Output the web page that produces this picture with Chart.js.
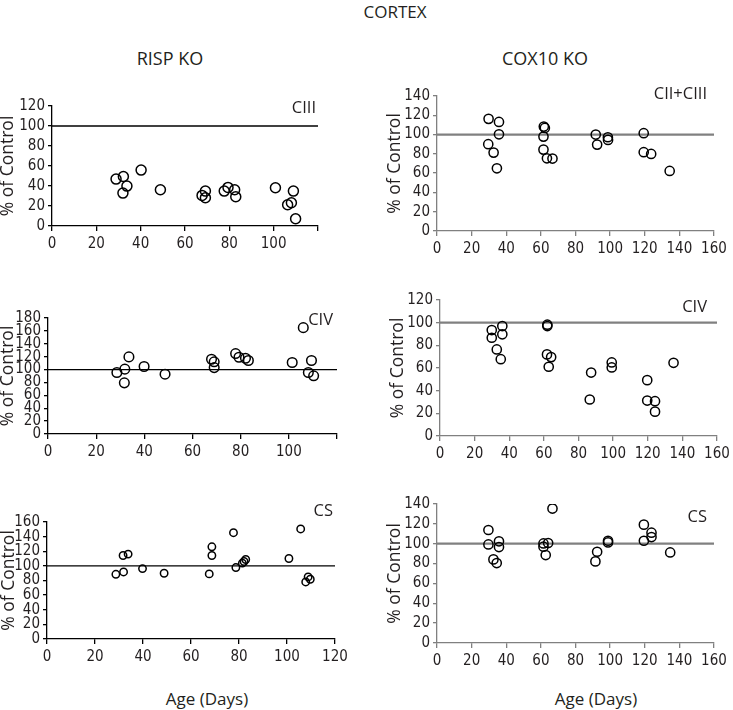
<!DOCTYPE html>
<html>
<head>
<meta charset="utf-8">
<script src="https://cdn.jsdelivr.net/npm/chart.js@4.4.0/dist/chart.umd.min.js"></script>
<style>
body { margin:0; background:#fff; width:733px; height:710px; position:relative; overflow:hidden; font-family:"Open Sans", sans-serif; color:#231f20; }
.txt { position:absolute; white-space:nowrap; transform:translate(-50%,-50%); font-size:17px; }
canvas { position:absolute; }
</style>
</head>
<body>
<div class="txt" style="left:395px; top:11px">CORTEX</div>
<div class="txt" style="left:170px; top:58px; font-size:18px">RISP KO</div>
<div class="txt" style="left:545px; top:58px; font-size:18px">COX10 KO</div>
<div class="txt" style="left:207px; top:698px">Age (Days)</div>
<div class="txt" style="left:596px; top:698px">Age (Days)</div>
<canvas id="p1"></canvas>
<canvas id="p2"></canvas>
<canvas id="p3"></canvas>
<canvas id="p4"></canvas>
<canvas id="p5"></canvas>
<canvas id="p6"></canvas>
<script>
const controlLevel = 100

// RISP KO - CIII
const rispCIIIAge = [28.9, 32.2, 32.0, 33.8, 40.2, 48.9, 67.7, 69.2, 69.2, 77.7, 79.4, 82.4, 82.9, 100.8, 106.3, 108.0, 108.9, 109.9]
const rispCIIIPct = [46.9, 49.5, 32.9, 39.9, 55.9, 36.2, 30.6, 34.9, 28.3, 34.9, 38.6, 36.2, 29.3, 38.2, 21.3, 23.3, 34.9, 7.3]

// COX10 KO - CII+CIII
const coxCIIAge = [29.8, 35.8, 35.8, 29.6, 32.7, 34.6, 61.7, 62.3, 61.5, 61.5, 63.5, 66.7, 91.7, 92.5, 98.7, 98.8, 119.4, 119.4, 123.7, 134.4]
const coxCIIPct = [116.3, 113.1, 100.3, 90, 81.3, 65, 108.3, 106.9, 97.9, 84.4, 75.4, 75.1, 100, 89.6, 97.2, 94.5, 101.4, 81.7, 79.9, 62.3]

// RISP KO - CIV
const rispCIVAge = [28.6, 31.9, 31.7, 33.6, 39.9, 48.6, 67.9, 69.0, 69.0, 77.9, 79.3, 82.0, 83.2, 101.4, 106.0, 109.4, 108.1, 110.3]
const rispCIVPct = [95.4, 100.6, 79.4, 119.6, 104.7, 92.8, 116, 112, 103, 124.8, 119.1, 117.6, 114, 110.9, 165, 114, 95.4, 90.3]

// COX10 KO - CIV
const coxCIVAge = [29.9, 29.9, 36.0, 36.0, 32.8, 35.1, 62.0, 62.0, 61.8, 64.2, 62.8, 87.3, 86.5, 99.2, 99.2, 119.7, 119.7, 124.2, 124.2, 134.9]
const coxCIVPct = [93.5, 86.7, 97, 89.7, 76.4, 67.8, 98.2, 97, 72, 69.6, 61.1, 56, 32.2, 64.9, 60.5, 49.3, 31.3, 30.7, 21.5, 64.6]

// RISP KO - CS
const rispCSAge = [28.7, 31.9, 31.7, 33.8, 39.8, 48.8, 67.6, 68.7, 68.7, 77.7, 78.7, 81.4, 82.1, 82.8, 100.8, 105.7, 107.8, 108.8, 109.7]
const rispCSPct = [88.5, 91.7, 114.2, 116.1, 96.3, 89.9, 89, 126.1, 114.2, 145.4, 97.7, 103.7, 106, 108.7, 110.1, 150.5, 78, 84.9, 81.7]

// COX10 KO - CS
const coxCSAge = [29.7, 29.7, 35.8, 35.8, 32.6, 34.5, 61.5, 61.5, 62.8, 64.2, 66.7, 91.5, 92.5, 98.8, 98.8, 119.5, 119.5, 123.9, 123.9, 134.7]
const coxCSPct = [113.8, 99.3, 102.4, 96.6, 84.2, 80.5, 100.3, 97, 88.6, 100.7, 135.4, 82.2, 91.9, 103, 101.3, 119.2, 103, 111.1, 106.7, 91.2]

const tickFont = {family: '"Liberation Sans Narrow", "DejaVu Sans Condensed", "Open Sans", sans-serif', size: 15}
const ink = '#231f20'

function pts(ages, pcts) {
    return ages.map((a, i) => ({x: a, y: pcts[i]}))
}

// label in the upper right corner of each panel
const panelLabel = {
    id: 'panelLabel',
    afterDraw(chart, args, opts) {
        const {ctx, chartArea} = chart
        ctx.save()
        ctx.font = '16.5px "Open Sans"'
        ctx.fillStyle = ink
        ctx.textAlign = 'right'
        ctx.textBaseline = 'middle'
        ctx.fillText(opts.text, chartArea.right + opts.dx, chartArea.top + opts.dy)
        ctx.restore()
    }
}

function makePanel(id, p) {
    const padTop = 24, padRight = 14, XH = 34
    const [l, t, r, b] = p.area
    const canvas = document.getElementById(id)
    canvas.width = p.yw + (r - l) + padRight
    canvas.height = padTop + (b - t) + XH
    canvas.style.left = (l - p.yw) + 'px'
    canvas.style.top = (t - padTop) + 'px'

    new Chart(canvas.getContext('2d'), {
        type: 'scatter',
        data: {
            datasets: [{
                data: p.data,
                pointStyle: 'circle',
                pointRadius: p.radius,
                pointHoverRadius: p.radius,
                borderColor: '#000',
                backgroundColor: 'rgba(0,0,0,0)',
                borderWidth: 1.5
            }, {
                data: [{x: 0, y: controlLevel}, {x: p.xMax, y: controlLevel}],
                showLine: true,
                pointRadius: 0,
                borderColor: p.refColor,
                borderWidth: p.refWidth
            }]
        },
        options: {
            responsive: false,
            animation: false,
            devicePixelRatio: 1,
            layout: {padding: {top: padTop, right: padRight, left: 0, bottom: 0}},
            plugins: {
                legend: {display: false},
                tooltip: {enabled: false},
                panelLabel: {text: p.label, dx: p.dx, dy: p.dy}
            },
            scales: {
                x: {
                    type: 'linear',
                    min: 0,
                    max: p.xMax,
                    afterFit: s => { s.height = XH; s.paddingLeft = 0; s.paddingRight = 0 },
                    ticks: {
                        stepSize: 20,
                        autoSkip: false,
                        maxRotation: 0,
                        padding: 4,
                        color: ink,
                        font: tickFont,
                        callback: v => (p.hideLastX && v === p.xMax) ? '' : v
                    },
                    grid: {drawOnChartArea: false, drawTicks: true, tickLength: 5, color: p.axisColor, lineWidth: 1.3},
                    border: {display: true, color: p.axisColor, width: 1.3}
                },
                y: {
                    min: 0,
                    max: p.yMax,
                    afterFit: s => { s.width = p.yw; s.paddingTop = 0; s.paddingBottom = 0 },
                    ticks: {
                        stepSize: 20,
                        autoSkip: false,
                        padding: 3,
                        color: ink,
                        font: tickFont
                    },
                    grid: {drawOnChartArea: false, drawTicks: true, tickLength: 4, color: p.axisColor, lineWidth: 1.3},
                    border: {display: true, color: p.axisColor, width: 1.3},
                    title: {
                        display: true,
                        text: '% of Control',
                        color: ink,
                        padding: {top: 0, bottom: 0},
                        font: {family: '"Open Sans", sans-serif', size: 17.5}
                    }
                }
            }
        },
        plugins: [panelLabel]
    })
}

const risp = {axisColor: '#000', refColor: '#000', refWidth: 1.3}
const cox = {axisColor: '#808080', refColor: '#808080', refWidth: 2.2}

makePanel('p1', {...risp, area: [52, 106, 318, 226], yw: 54, xMax: 120, yMax: 120, hideLastX: true,
    data: pts(rispCIIIAge, rispCIIIPct), radius: 5, label: 'CIII', dx: -2, dy: 2})
makePanel('p2', {...cox, area: [437, 96, 714, 231], yw: 52, xMax: 160, yMax: 140, hideLastX: false,
    data: pts(coxCIIAge, coxCIIPct), radius: 4.6, label: 'CII+CIII', dx: -7, dy: -2})
makePanel('p3', {...risp, area: [48, 318, 337, 434], yw: 50, xMax: 120, yMax: 180, hideLastX: true,
    data: pts(rispCIVAge, rispCIVPct), radius: 4.8, label: 'CIV', dx: -4, dy: 2})
makePanel('p4', {...cox, area: [440, 300, 717, 436], yw: 52, xMax: 160, yMax: 120, hideLastX: false,
    data: pts(coxCIVAge, coxCIVPct), radius: 4.6, label: 'CIV', dx: -10, dy: 7})
makePanel('p5', {...risp, area: [47, 522, 335, 639], yw: 48, xMax: 120, yMax: 160, hideLastX: false,
    data: pts(rispCSAge, rispCSPct), radius: 3.7, label: 'CS', dx: -2, dy: -11})
makePanel('p6', {...cox, area: [437, 504, 714, 643], yw: 52, xMax: 160, yMax: 140, hideLastX: false,
    data: pts(coxCSAge, coxCSPct), radius: 4.6, label: 'CS', dx: -7, dy: 13})
</script>
</body>
</html>
